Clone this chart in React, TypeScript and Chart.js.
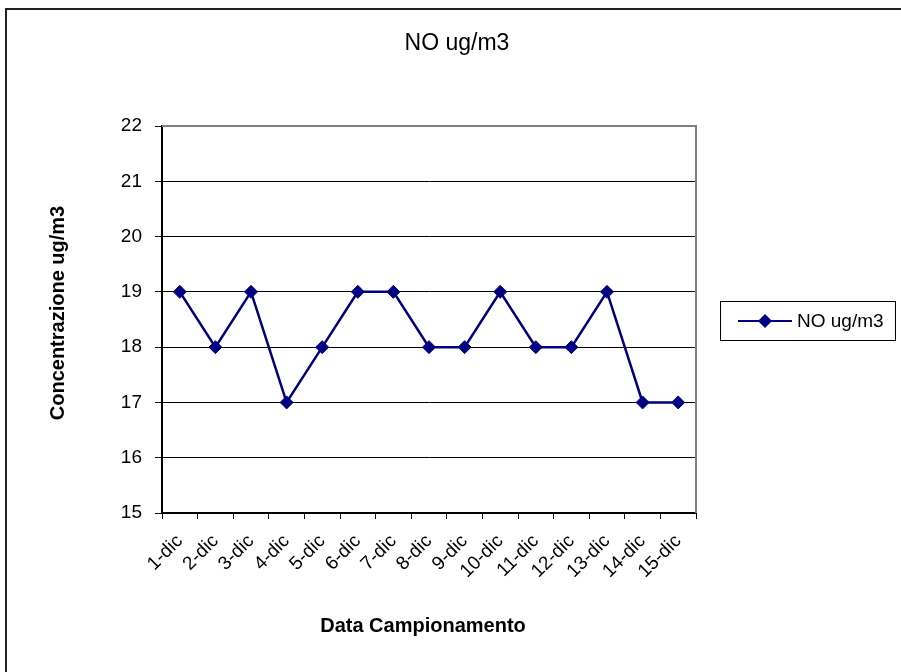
import React, { useEffect, useRef } from "react";
import { Chart, registerables } from "chart.js";

Chart.register(...registerables);

const categories = ["1-dic", "2-dic", "3-dic", "4-dic", "5-dic", "6-dic", "7-dic", "8-dic", "9-dic", "10-dic", "11-dic", "12-dic", "13-dic", "14-dic", "15-dic"];
const noValues = [19, 18, 19, 17, 18, 19, 19, 18, 18, 19, 18, 18, 19, 17, 17];
const seriesName = "NO ug/m3";
const chartTitle = "NO ug/m3";
const yTitle = "Concentrazione ug/m3";
const xTitle = "Data Campionamento";
const yMin = 15;
const yMax = 22;

const FONT = "'Liberation Sans', Arial, sans-serif";
const NAVY = "#000080";

const decorPlugin = {
  id: "decor",
  afterDraw(chart: any) {
    const ctx = chart.ctx as CanvasRenderingContext2D;
    const a = chart.chartArea;
    ctx.save();
    // plot border top/right (gray)
    ctx.strokeStyle = "#808080";
    ctx.lineWidth = 2;
    ctx.beginPath();
    ctx.moveTo(a.left, a.top);
    ctx.lineTo(a.right, a.top);
    ctx.lineTo(a.right, a.bottom);
    ctx.stroke();
    // outer frame
    ctx.strokeStyle = "#222";
    ctx.lineWidth = 2;
    ctx.beginPath();
    ctx.moveTo(6, 672);
    ctx.lineTo(6, 9);
    ctx.lineTo(901, 9);
    ctx.stroke();
    // title
    ctx.fillStyle = "#000";
    ctx.font = `23px ${FONT}`;
    ctx.textAlign = "center";
    ctx.textBaseline = "alphabetic";
    ctx.fillText(chartTitle, 457, 50);
    // x title
    ctx.font = `bold 20px ${FONT}`;
    ctx.fillText(xTitle, 423, 632);
    // y title
    ctx.save();
    ctx.translate(64, 313);
    ctx.rotate(-Math.PI / 2);
    ctx.fillText(yTitle, 0, 0);
    ctx.restore();
    // legend
    ctx.strokeStyle = "#000";
    ctx.lineWidth = 1;
    ctx.strokeRect(720.5, 301.5, 175, 39);
    ctx.strokeStyle = NAVY;
    ctx.lineWidth = 2;
    ctx.beginPath();
    ctx.moveTo(738, 321);
    ctx.lineTo(792, 321);
    ctx.stroke();
    ctx.fillStyle = NAVY;
    ctx.beginPath();
    ctx.moveTo(758, 321);
    ctx.lineTo(765, 314);
    ctx.lineTo(772, 321);
    ctx.lineTo(765, 328);
    ctx.closePath();
    ctx.fill();
    ctx.fillStyle = "#000";
    ctx.font = `19px ${FONT}`;
    ctx.textAlign = "left";
    ctx.textBaseline = "middle";
    ctx.fillText(seriesName, 797, 322);
    ctx.restore();
  },
};

export default function App() {
  const ref = useRef<HTMLCanvasElement>(null);
  useEffect(() => {
    if (!ref.current) return;
    const chart = new Chart(ref.current, {
      type: "line",
      data: {
        labels: categories,
        datasets: [
          {
            label: seriesName,
            data: noValues,
            borderColor: NAVY,
            backgroundColor: NAVY,
            borderWidth: 2.5,
            pointStyle: "rectRot",
            pointRadius: 6.5,
            pointBorderWidth: 1,
            pointBackgroundColor: NAVY,
            pointBorderColor: NAVY,
            tension: 0,
          },
        ],
      },
      options: {
        responsive: false,
        animation: false,
        layout: { padding: { left: 0, top: 126, right: 205, bottom: 0 } },
        plugins: {
          legend: { display: false },
          title: { display: false },
          tooltip: { enabled: false },
        },
        scales: {
          x: {
            type: "category",
            offset: true,
            afterFit: (s: any) => {
              s.height = 159;
            },
            grid: {
              display: true,
              drawOnChartArea: false,
              drawTicks: true,
              tickLength: 6,
              color: "#000",
              lineWidth: 1,
              offset: true,
            },
            border: { display: true, color: "#000", width: 2 },
            ticks: {
              maxRotation: 45,
              minRotation: 45,
              autoSkip: false,
              padding: 11,
              color: "#000",
              font: { family: FONT, size: 19 },
            },
          },
          y: {
            min: yMin,
            max: yMax,
            afterFit: (s: any) => {
              s.width = 162;
            },
            grid: {
              color: "#000",
              lineWidth: 1,
              tickLength: 7,
              drawTicks: true,
            },
            border: { display: true, color: "#000", width: 2 },
            ticks: {
              stepSize: 1,
              padding: 13,
              color: "#000",
              font: { family: FONT, size: 19 },
            },
          },
        },
      },
      plugins: [decorPlugin],
    } as any);
    return () => chart.destroy();
  }, []);
  return (
    <div style={{ position: "fixed", left: 0, top: 0, width: 901, height: 672, background: "#fff" }}>
      <canvas ref={ref} width={901} height={672} style={{ display: "block" }} />
    </div>
  );
}
